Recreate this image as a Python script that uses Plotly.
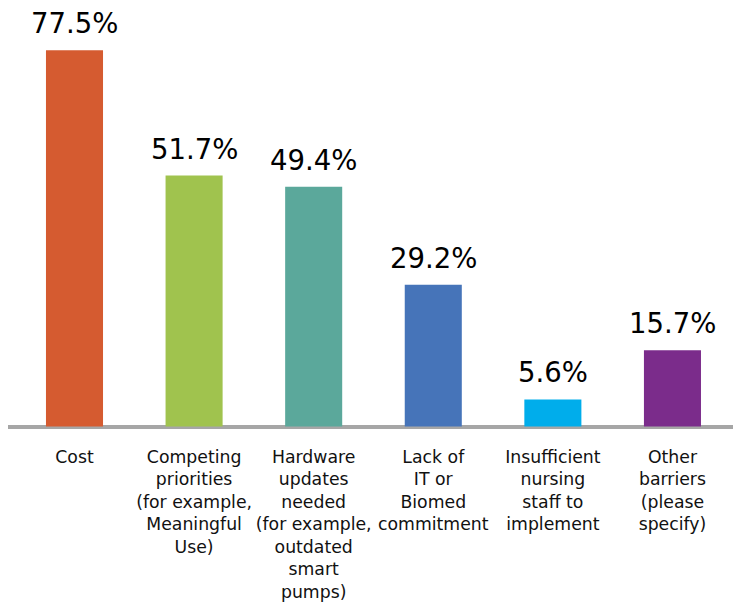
import plotly.graph_objects as go

categories = [
    "Cost",
    "Competing<br>priorities<br>(for example,<br>Meaningful<br>Use)",
    "Hardware<br>updates<br>needed<br>(for example,<br>outdated<br>smart<br>pumps)",
    "Lack of<br>IT or<br>Biomed<br>commitment",
    "Insufficient<br>nursing<br>staff to<br>implement",
    "Other<br>barriers<br>(please<br>specify)",
]
values = [77.5, 51.7, 49.4, 29.2, 5.6, 15.7]
labels = ["77.5%", "51.7%", "49.4%", "29.2%", "5.6%", "15.7%"]
colors = ["#D55B30", "#A0C34E", "#5BA89B", "#4674B9", "#00ADEB", "#7B2C8B"]

fig = go.Figure()
fig.add_trace(go.Bar(
    x=categories, y=values, marker=dict(color=colors, line=dict(width=0)),
    width=0.477, hoverinfo="skip",
))
for c, v, t in zip(categories, values, labels):
    fig.add_annotation(x=c, y=v, text=t, showarrow=False, yanchor="bottom",
                       yshift=9, font=dict(family="DejaVu Sans", size=27.5, color="#000000"))

fig.update_layout(
    width=741, height=603,
    margin=dict(l=0, r=0, t=0, b=182),
    plot_bgcolor="white", paper_bgcolor="white",
    showlegend=False,
    font=dict(family="DejaVu Sans", size=17.3, color="#111111"),
)
fig.update_xaxes(range=[-0.556, 5.64], showline=False, showgrid=False,
                 ticks="outside", ticklen=12, tickcolor="rgba(0,0,0,0)",
                 tickfont=dict(family="DejaVu Sans", size=17.3, color="#111111"))
fig.update_yaxes(range=[-0.5, 86.2], showgrid=False, showticklabels=False,
                 zeroline=True, zerolinecolor="#A6A6A6", zerolinewidth=4, showline=False)

fig.write_html("out.html")
